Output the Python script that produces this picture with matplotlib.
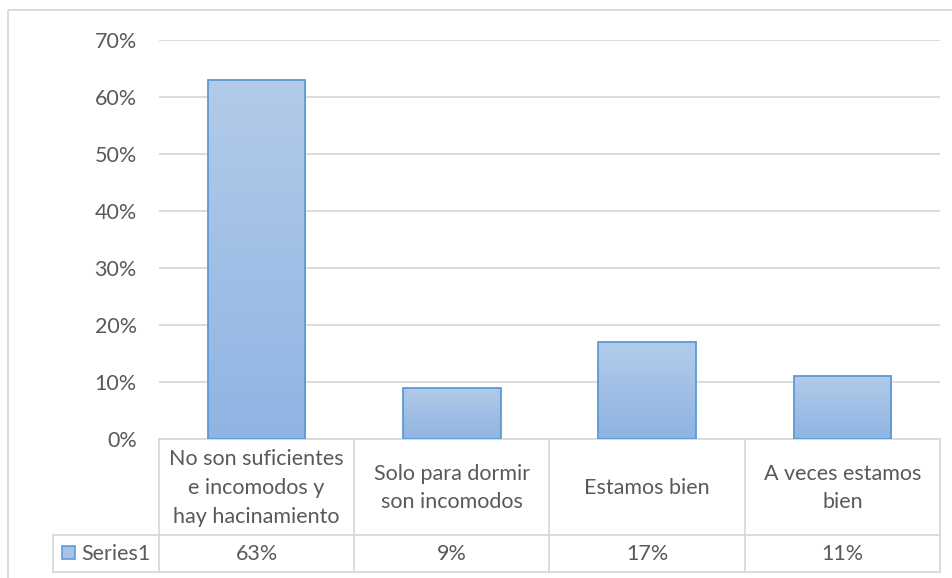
import numpy as np
import matplotlib.pyplot as plt
from matplotlib.patches import Rectangle
from matplotlib.colors import LinearSegmentedColormap
from matplotlib.transforms import blended_transform_factory

categories = ["No son suficientes\ne incomodos y\nhay hacinamiento",
              "Solo para dormir\nson incomodos",
              "Estamos bien",
              "A veces estamos\nbien"]
values = [0.63, 0.09, 0.17, 0.11]
value_labels = ["63%", "9%", "17%", "11%"]
series_name = "Series1"
yticks = [0, 0.1, 0.2, 0.3, 0.4, 0.5, 0.6, 0.7]

W, H = 953, 578
text_color = "#595959"
grid_color = "#D9D9D9"
edge_color = "#5B9BD5"
plt.rcParams['font.family'] = ['Lato', 'DejaVu Sans']
fs = 15.5

fig = plt.figure(figsize=(W / 100, H / 100), dpi=100)

# overlay in pixel coordinates for border and table
over = fig.add_axes([0, 0, 1, 1], zorder=0)
over.set_xlim(0, W)
over.set_ylim(H, 0)
over.axis('off')

x0, x1, y_top, y_base = 159, 940, 40, 439
ax = fig.add_axes([x0 / W, (H - y_base) / H, (x1 - x0) / W, (y_base - y_top) / H], zorder=1)
ax.patch.set_alpha(0)
ax.set_yticks(yticks)
ax.set_yticklabels([f"{int(round(t * 100))}%" for t in yticks], fontsize=fs, color=text_color)
ax.tick_params(axis='y', length=0, pad=16)
ax.set_xticks([])
for s in ax.spines.values():
    s.set_visible(False)
ax.grid(axis='y', color=grid_color, linewidth=1.3)
ax.set_axisbelow(True)

grad = np.linspace(0, 1, 256).reshape(-1, 1)
cmap = LinearSegmentedColormap.from_list("g", ["#8FB4E3", "#B3CBE9"])

bars = ax.bar(range(len(values)), values, width=0.5, facecolor='none',
              edgecolor=edge_color, linewidth=1.3, zorder=3)
for b in bars:
    bx, by = b.get_x(), b.get_y()
    bw, bh = b.get_width(), b.get_height()
    im = ax.imshow(grad, extent=[bx, bx + bw, by, by + bh], origin='lower',
                   cmap=cmap, aspect='auto', zorder=2)
    im.set_clip_path(b)
ax.set_xlim(-0.5, len(categories) - 0.5)
ax.set_ylim(0, 0.7)

# outer border
over.add_patch(Rectangle((8, 10), W + 20, H + 20, fill=False, edgecolor=grid_color, linewidth=1.3))

# data table
tr = blended_transform_factory(ax.transData, over.transData)
t_left, row1, row2, row3 = 53, 439, 535, 572
lw = 1.3
over.plot([x0, x1], [row1, row1], color=grid_color, lw=lw)
over.plot([t_left, x1], [row2, row2], color=grid_color, lw=lw)
over.plot([t_left, x1], [row3, row3], color=grid_color, lw=lw)
over.plot([t_left, t_left], [row2, row3], color=grid_color, lw=lw)
for i in range(len(categories) + 1):
    over.plot([i - 0.5, i - 0.5], [row1, row3], color=grid_color, lw=lw, transform=tr)

for i, (c, v) in enumerate(zip(categories, value_labels)):
    over.text(i, (row1 + row2) / 2 + 1, c, transform=tr, ha='center', va='center',
              fontsize=fs, color=text_color, linespacing=1.55)
    over.text(i, (row2 + row3) / 2 + 1, v, transform=tr, ha='center', va='center',
              fontsize=fs, color=text_color)

# legend key
key = Rectangle((62, 546), 13, 13, edgecolor=edge_color, linewidth=1.2)
key.set_facecolor("#A5C2E7")
over.add_patch(key)
over.text(81, (row2 + row3) / 2 + 1, series_name, ha='left', va='center',
          fontsize=fs, color=text_color)

fig.savefig("out.png", dpi=100)
